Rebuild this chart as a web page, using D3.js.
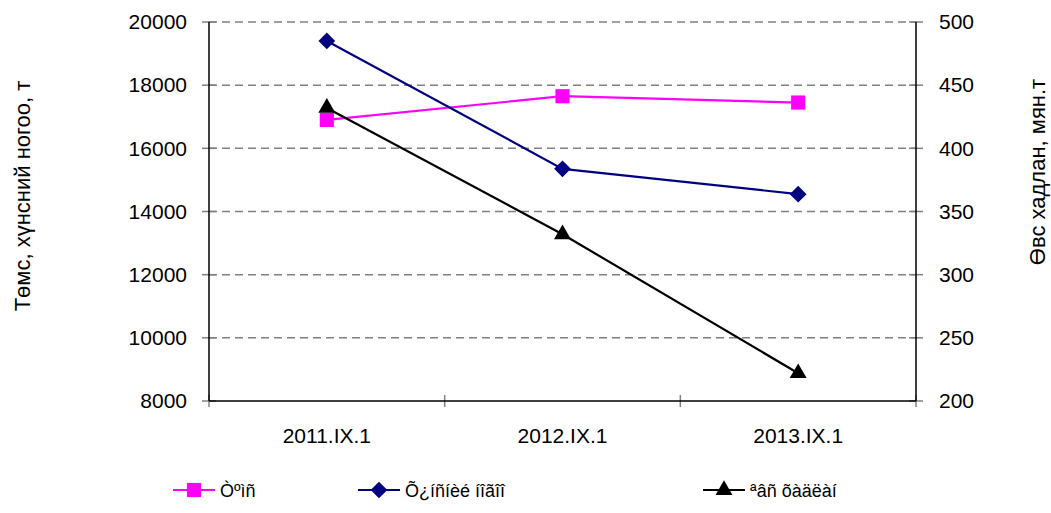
<!DOCTYPE html>
<html>
<head>
<meta charset="utf-8">
<script src="https://cdn.jsdelivr.net/npm/d3@7"></script>
<style>
  body { margin: 0; background: #fff; }
  text { font-family: "Liberation Sans", Arial, sans-serif; fill: #000; }
</style>
</head>
<body>
<svg id="svg"></svg>
<script>
let width = 1051, height = 513;
let margin = { top: 22, right: 135, bottom: 112, left: 209 };

// data
let categories = ["2011.IX.1", "2012.IX.1", "2013.IX.1"];
let potato = [16900, 17650, 17450];      // left axis
let vegetables = [19400, 15350, 14550];  // left axis
let hay = [432, 332, 222];               // right axis
let seriesNames = ["Òºìñ", "Õ¿íñíèé íîãîî", "ªâñ õàäëàí"];
let leftTicks = [8000, 10000, 12000, 14000, 16000, 18000, 20000];
let rightTicks = [200, 250, 300, 350, 400, 450, 500];

let svg = d3.select("#svg").attr("width", width).attr("height", height);
let plotW = width - margin.left - margin.right;
let plotH = height - margin.top - margin.bottom;

let xScale = d3.scaleBand().domain(categories).range([margin.left, margin.left + plotW]);
let yLeft = d3.scaleLinear().domain([8000, 20000]).range([margin.top + plotH, margin.top]);
let yRight = d3.scaleLinear().domain([200, 500]).range([margin.top + plotH, margin.top]);
let cx = d => xScale(d) + xScale.bandwidth() / 2;

// gridlines
svg.append("g").selectAll("line")
    .data(leftTicks.slice(1))
    .join("line")
    .attr("x1", margin.left).attr("x2", margin.left + plotW)
    .attr("y1", d => yLeft(d)).attr("y2", d => yLeft(d))
    .attr("stroke", "#808080").attr("stroke-width", 1.5)
    .attr("stroke-dasharray", "8,5");

// left axis
let gl = svg.append("g").attr("transform", `translate(${margin.left},0)`)
    .call(d3.axisLeft(yLeft).tickValues(leftTicks).tickSize(0).tickPadding(22).tickFormat(d3.format("d")));
gl.select(".domain").remove();
gl.selectAll("text").attr("font-size", 21).attr("font-family", null);
svg.append("g").selectAll("line").data(leftTicks).join("line")
    .attr("x1", margin.left - 7).attr("x2", margin.left + 7)
    .attr("y1", d => yLeft(d)).attr("y2", d => yLeft(d))
    .attr("stroke", "#808080").attr("stroke-width", 1.5);

// right axis
let gr = svg.append("g").attr("transform", `translate(${margin.left + plotW},0)`)
    .call(d3.axisRight(yRight).tickValues(rightTicks).tickSize(0).tickPadding(23));
gr.select(".domain").remove();
gr.selectAll("text").attr("font-size", 21).attr("font-family", null);
svg.append("g").selectAll("line").data(rightTicks).join("line")
    .attr("x1", margin.left + plotW - 7).attr("x2", margin.left + plotW + 7)
    .attr("y1", d => yRight(d)).attr("y2", d => yRight(d))
    .attr("stroke", "#808080").attr("stroke-width", 1.5);

// x axis
let gx = svg.append("g").attr("transform", `translate(0,${margin.top + plotH})`)
    .call(d3.axisBottom(xScale).tickSize(0).tickPadding(27));
gx.select(".domain").remove();
gx.selectAll("text").attr("font-size", 21).attr("font-family", null);
let bounds = categories.map(c => xScale(c)).concat([margin.left + plotW]);
svg.append("g").selectAll("line").data(bounds).join("line")
    .attr("x1", d => d).attr("x2", d => d)
    .attr("y1", margin.top + plotH - 6).attr("y2", margin.top + plotH + 6)
    .attr("stroke", "#808080").attr("stroke-width", 1.5);

// axis lines
svg.append("line").attr("x1", margin.left).attr("x2", margin.left)
    .attr("y1", margin.top).attr("y2", margin.top + plotH).attr("stroke", "#000").attr("stroke-width", 1.5);
svg.append("line").attr("x1", margin.left + plotW).attr("x2", margin.left + plotW)
    .attr("y1", margin.top).attr("y2", margin.top + plotH).attr("stroke", "#000").attr("stroke-width", 1.5);
svg.append("line").attr("x1", margin.left).attr("x2", margin.left + plotW)
    .attr("y1", margin.top + plotH).attr("y2", margin.top + plotH).attr("stroke", "#000").attr("stroke-width", 1.5);

// axis titles
svg.append("text").attr("transform", "translate(30,196) rotate(-90)")
    .attr("text-anchor", "middle").attr("font-size", 22).text("Төмс, хүнсний ногоо, т");
svg.append("text").attr("transform", "translate(1045,172) rotate(-90)")
    .attr("text-anchor", "middle").attr("font-size", 22).text("Өвс хадлан, мян.т");

// series
let series = [
    { name: seriesNames[0], values: potato, scale: yLeft, color: "#FF00FF", symbol: d3.symbolSquare, size: 200, rot: 0 },
    { name: seriesNames[1], values: vegetables, scale: yLeft, color: "#000080", symbol: d3.symbolSquare, size: 140, rot: 45 },
    { name: seriesNames[2], values: hay, scale: yRight, color: "#000000", symbol: d3.symbolTriangle, size: 125, rot: 0 }
];

let line = d3.line();
series.forEach(s => {
    let pts = s.values.map((v, i) => [cx(categories[i]), s.scale(v)]);
    svg.append("path").attr("d", line(pts)).attr("fill", "none")
        .attr("stroke", s.color).attr("stroke-width", 2.2);
    svg.append("g").selectAll("path").data(pts).join("path")
        .attr("transform", d => `translate(${d[0]},${d[1]}) rotate(${s.rot})`)
        .attr("d", d3.symbol().type(s.symbol).size(s.size))
        .attr("fill", s.color);
});

// legend
let legendX = [173, 358, 703];
let legendY = 490;
let lg = svg.append("g").selectAll("g").data(series).join("g")
    .attr("transform", (d, i) => `translate(${legendX[i]},${legendY})`);
lg.append("line").attr("x1", 0).attr("x2", 42)
    .attr("stroke", d => d.color).attr("stroke-width", 2.2);
lg.append("path").attr("transform", d => `translate(21,0) rotate(${d.rot})`)
    .attr("d", d => d3.symbol().type(d.symbol).size(d.size)())
    .attr("fill", d => d.color);
lg.append("text").attr("x", 47).attr("y", 7).attr("font-size", 18).text(d => d.name);
</script>
</body>
</html>
